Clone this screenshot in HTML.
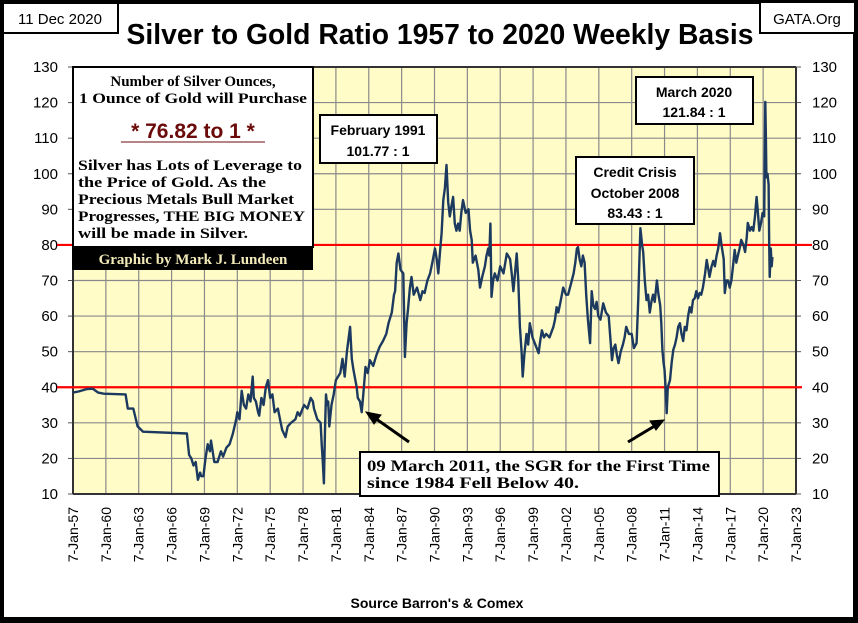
<!DOCTYPE html>
<html><head><meta charset="utf-8"><style>
html,body{margin:0;padding:0;background:#fff}
svg{display:block}
.sans{font-family:"Liberation Sans",sans-serif}
.serif{font-family:"Liberation Serif",serif}
</style></head><body>
<svg id="chart" width="858" height="623" viewBox="0 0 858 623" xmlns="http://www.w3.org/2000/svg">
<rect x="0" y="0" width="858" height="623" fill="#000"/>
<rect x="4" y="4" width="849" height="613" fill="#fff"/>
<g>
<rect x="3" y="3" width="115" height="30" fill="#fff" stroke="#000" stroke-width="2"/>
<text x="60" y="24" class="sans" font-size="15" text-anchor="middle">11 Dec 2020</text>
</g>
<g>
<rect x="760" y="2" width="95" height="31" fill="#fff" stroke="#000" stroke-width="2"/>
<text x="807" y="24" class="sans" font-size="15" text-anchor="middle">GATA.Org</text>
</g>
<text x="440" y="44" class="sans" font-size="29" font-weight="bold" text-anchor="middle" textLength="627" lengthAdjust="spacingAndGlyphs">Silver to Gold Ratio 1957 to 2020 Weekly Basis</text>
<rect x="73" y="67" width="723" height="427" fill="#fffcc8"/>
<g id="grid"></g>
<g id="axes"></g>
<g id="refs"></g>
<path id="series" fill="none" stroke="#1c3a60" stroke-width="2.4" stroke-linejoin="round"/>
<g>
<rect x="73" y="67" width="240" height="180" fill="#fff" stroke="#000" stroke-width="2"/>
<text x="193" y="86" class="serif" font-size="15" font-weight="bold" text-anchor="middle">Number of Silver Ounces,</text>
<text x="193" y="103" class="serif" font-size="15" font-weight="bold" text-anchor="middle" textLength="228" lengthAdjust="spacingAndGlyphs">1 Ounce of Gold will Purchase</text>
<text x="193" y="138" class="sans" font-size="21" font-weight="bold" fill="#6b0a0a" text-anchor="middle">* 76.82 to 1 *</text>
<line x1="121" y1="142" x2="265" y2="142" stroke="#6b0a0a" stroke-width="1"/>
<text x="78" y="170" class="serif" font-size="15" font-weight="bold" textLength="224" lengthAdjust="spacingAndGlyphs">Silver has Lots of Leverage to</text>
<text x="78" y="187" class="serif" font-size="15" font-weight="bold" textLength="188" lengthAdjust="spacingAndGlyphs">the Price of Gold.  As the</text>
<text x="78" y="204" class="serif" font-size="15" font-weight="bold" textLength="216" lengthAdjust="spacingAndGlyphs">Precious Metals Bull Market</text>
<text x="78" y="221" class="serif" font-size="15" font-weight="bold" textLength="227" lengthAdjust="spacingAndGlyphs">Progresses,  THE BIG MONEY</text>
<text x="78" y="238" class="serif" font-size="15" font-weight="bold" textLength="170" lengthAdjust="spacingAndGlyphs">will be made in Silver.</text>
<rect x="72" y="247" width="241" height="23" fill="#000"/>
<text x="193" y="264" class="serif" font-size="15" font-weight="bold" fill="#f2eab8" text-anchor="middle">Graphic by Mark J. Lundeen</text>
</g>
<g>
<rect x="320" y="115" width="117" height="48" fill="#fff" stroke="#000" stroke-width="2"/>
<text x="378" y="135" class="sans" font-size="14" font-weight="bold" text-anchor="middle">February 1991</text>
<text x="378" y="156" class="sans" font-size="14" font-weight="bold" text-anchor="middle">101.77 : 1</text>
</g>
<g>
<rect x="576" y="157" width="118" height="67" fill="#fff" stroke="#000" stroke-width="2"/>
<text x="635" y="177" class="sans" font-size="14" font-weight="bold" text-anchor="middle">Credit Crisis</text>
<text x="635" y="198" class="sans" font-size="14" font-weight="bold" text-anchor="middle">October 2008</text>
<text x="635" y="218" class="sans" font-size="14" font-weight="bold" text-anchor="middle">83.43 : 1</text>
</g>
<g>
<rect x="636" y="77" width="117" height="47" fill="#fff" stroke="#000" stroke-width="2"/>
<text x="694" y="97" class="sans" font-size="14" font-weight="bold" text-anchor="middle">March 2020</text>
<text x="694" y="117" class="sans" font-size="14" font-weight="bold" text-anchor="middle">121.84 : 1</text>
</g>
<g stroke="#000" stroke-width="3" fill="#000">
<line x1="409" y1="442" x2="372" y2="416"/>
<polygon points="366,412 381,415 374,424" stroke-width="1"/>
<line x1="628" y1="442" x2="658" y2="424"/>
<polygon points="664,420 650,421 656,430" stroke-width="1"/>
</g>
<g>
<rect x="360" y="452" width="359" height="44" fill="#fff" stroke="#000" stroke-width="2"/>
<text x="367" y="471" class="serif" font-size="16" font-weight="bold" textLength="343" lengthAdjust="spacingAndGlyphs">09 March 2011, the SGR for the First Time</text>
<text x="367" y="488" class="serif" font-size="16" font-weight="bold" textLength="212" lengthAdjust="spacingAndGlyphs">since 1984 Fell Below 40.</text>
</g>
<text x="437" y="608" class="sans" font-size="14" font-weight="bold" text-anchor="middle">Source Barron's &amp; Comex</text>
</svg>
<script>
const yTicks=[10,20,30,40,50,60,70,80,90,100,110,120,130];
const xTickYears=[1957,1960,1963,1966,1969,1972,1975,1978,1981,1984,1987,1990,1993,1996,1999,2002,2005,2008,2011,2014,2017,2020,2023];
const refLevels=[80,40];
const series=[
[1957,38.5],[1957.5,38.8],[1958.3,39.5],[1958.8,39.6],[1959.3,38.5],[1959.8,38.2],[1961.8,38],[1962.0,34],[1962.5,34],[1962.9,29],[1963.4,27.5],[1967.4,27],
[1967.6,21],[1967.8,20],[1968.0,18],[1968.2,19],[1968.4,14],[1968.6,16],[1968.7,15],[1968.9,15],[1969.1,20],[1969.3,24],[1969.5,22],[1969.6,25],[1969.9,19],[1970.2,19],[1970.5,22],[1970.7,20.5],[1971.0,23],[1971.3,24],[1971.6,27],[1971.9,31],[1972.0,33],[1972.2,31],[1972.4,39],[1972.6,35],[1972.8,34],[1973.0,38],[1973.2,36],[1973.4,43],[1973.5,37],[1973.7,36],[1973.9,33],[1974.0,32],[1974.2,37],[1974.4,35],[1974.6,40],[1974.8,42],[1975.0,37],[1975.2,38],[1975.4,33],[1975.7,34],[1975.9,31],[1976.1,28],[1976.4,26],[1976.6,29],[1976.9,30],[1977.3,31],[1977.5,33],[1977.7,32],[1978.1,35],[1978.4,34],[1978.7,37],[1978.9,36],[1979.0,34],[1979.3,31],[1979.6,30],[1979.7,24],[1979.8,19],[1979.9,13],[1980.0,28],[1980.1,38],[1980.2,35],[1980.3,36],[1980.4,29],[1980.6,35],[1980.8,38],[1981.0,42],[1981.4,44],[1981.6,48],[1981.8,43],[1982.0,50],[1982.3,57],[1982.45,48],[1982.6,45],[1982.9,40],[1983.0,37],[1983.2,36],[1983.35,33],[1983.5,38],
[1983.7,45.7],[1983.9,44],[1984.1,47.6],[1984.4,46],[1984.7,49],[1985.0,51.4],[1985.3,53],[1985.6,55],[1985.8,58],[1986.1,61],[1986.3,66],[1986.4,67],[1986.55,75],[1986.7,77.6],[1986.9,73],[1987.15,72],[1987.3,48.5],[1987.45,58],[1987.6,62.5],[1987.75,68],[1987.9,71],[1988.1,66],[1988.4,68],[1988.7,64.5],[1988.9,67],[1989.1,66.5],[1989.35,70],[1989.6,72],[1989.8,75],[1990.05,79],[1990.2,76],[1990.35,72],[1990.5,78],[1990.65,83.3],[1990.8,92.6],[1990.95,96],[1991.1,102.5],[1991.25,92],[1991.4,88],[1991.55,91],[1991.7,93.5],[1991.85,86],[1992.0,84],[1992.15,86],[1992.3,84],[1992.45,89],[1992.6,92.6],[1992.85,89],[1993.1,90],[1993.25,84],[1993.4,81.4],[1993.5,75],[1993.75,77],[1994.0,73],[1994.15,68],[1994.35,71],[1994.6,74],[1994.75,77],[1994.9,79],[1995.0,77],[1995.1,86],[1995.2,65.4],[1995.35,70],[1995.5,72],[1995.75,70],[1996.0,74],[1996.3,72],[1996.6,77.6],[1996.9,76],[1997.05,72],[1997.2,67],[1997.35,72],[1997.5,77.6],[1997.65,70],[1997.8,57],[1997.95,50],[1998.05,43],[1998.2,49],[1998.4,55],[1998.55,52],[1998.7,58],[1998.95,54],[1999.2,52],[1999.5,49.6],[1999.65,53],[1999.8,56],[2000.0,54],[2000.2,55],[2000.5,54],[2000.85,57],[2001.0,59],[2001.15,62.5],[2001.3,61],[2001.5,64],[2001.75,68],[2002.0,66],[2002.2,66],[2002.45,69],[2002.7,72],[2002.85,75],[2003.0,79],[2003.1,79.4],[2003.25,76],[2003.4,74],[2003.55,77],[2003.7,75],[2003.85,66],[2004.0,59],[2004.2,52.4],[2004.35,67],[2004.5,63],[2004.65,62],[2004.8,64],[2004.95,60],[2005.15,59],[2005.4,63.6],[2005.65,61],[2005.9,60],[2006.05,54],[2006.2,47.6],[2006.35,51],[2006.5,52],[2006.65,49],[2006.8,46.8],[2007.0,50],[2007.2,52],[2007.35,54],[2007.5,57],[2007.75,55],[2008.0,55],[2008.2,51],[2008.45,52.4],[2008.6,65],[2008.7,75.8],[2008.8,84.7],[2008.95,80],[2009.05,78],[2009.2,70],[2009.35,64.5],[2009.5,66],[2009.65,61],[2009.8,64],[2009.95,66],[2010.1,64],[2010.3,70],[2010.45,66],[2010.6,63],[2010.7,58],[2010.8,50.5],[2010.9,47],[2011.0,45],[2011.1,40],[2011.2,32.7],[2011.3,40],[2011.5,42],[2011.65,47],[2011.8,50.5],[2011.95,52],[2012.1,54],[2012.25,57],[2012.4,58],[2012.55,55],[2012.7,53],[2012.85,57],[2013.0,56],[2013.15,60],[2013.3,62.5],[2013.45,61],[2013.6,64.5],[2013.75,65],[2013.9,67],[2014.05,65],[2014.2,66.5],[2014.35,66],[2014.5,68],[2014.7,72],[2014.85,75.8],[2015.0,73],[2015.1,71],[2015.3,74],[2015.45,75.5],[2015.6,74],[2015.75,77],[2015.9,79],[2016.06,83.3],[2016.2,80],[2016.4,76],[2016.5,66.5],[2016.65,70],[2016.8,70],[2016.95,68],[2017.1,70],[2017.25,74],[2017.4,78.6],[2017.55,75],[2017.7,77],[2017.85,79],[2018.0,81.4],[2018.2,80],[2018.35,78],[2018.5,82],[2018.6,86.2],[2018.8,84],[2018.95,85],[2019.1,84],[2019.25,87.8],[2019.4,93.5],[2019.55,88],[2019.65,84],[2019.8,86],[2019.95,89],[2020.1,88],[2020.2,120.2],[2020.25,110],[2020.3,99],[2020.4,100],[2020.5,97],[2020.55,80],[2020.6,71],[2020.7,79],[2020.78,74],[2020.85,76.6]
];
const NS='http://www.w3.org/2000/svg';
const PL=73,PR=796,PT=67,PB=494;
function xScale(y){return PL+(y-1957)/(2023-1957)*(PR-PL);}
function yScale(v){return PB-(v-10)/(130-10)*(PB-PT);}
function mk(tag,attrs,parent){const e=document.createElementNS(NS,tag);for(const k in attrs)e.setAttribute(k,attrs[k]);parent.appendChild(e);return e;}
const grid=document.getElementById('grid'),axes=document.getElementById('axes'),refs=document.getElementById('refs');
yTicks.forEach(v=>{
  const y=yScale(v);
  const gl=mk('line',{x1:PL,x2:PR,y1:y,y2:y,stroke:'#8a8a8a','stroke-width':1.2},grid);
  
  
  mk('line',{x1:PL-5,x2:PL,y1:y,y2:y,stroke:'#555'},axes);
  mk('line',{x1:PR,x2:PR+5,y1:y,y2:y,stroke:'#555'},axes);
  const tl=mk('text',{x:PL-15,y:y+5,'text-anchor':'end','font-size':15,'font-family':'Liberation Sans, sans-serif'},axes);
  tl.textContent=v;
  
  
  const tr=mk('text',{x:PR+16,y:y+5,'font-size':15,'font-family':'Liberation Sans, sans-serif'},axes);
  tr.textContent=v;
  
  
});
xTickYears.forEach(yr=>{
  const x=xScale(yr);
  const gl=mk('line',{x1:x,x2:x,y1:PT,y2:PB,stroke:'#8a8a8a','stroke-width':1.2},grid);
  
  
  const t=mk('text',{x:0,y:0,'text-anchor':'end','font-size':14,'font-family':'Liberation Sans, sans-serif',transform:`translate(${x+5},${PB+13}) rotate(-90)`},axes);
  t.textContent='7-Jan-'+String(yr).slice(2);
  
  
});
mk('line',{x1:PL,x2:PL,y1:PT,y2:PB,stroke:'#333','stroke-width':2},axes);
mk('line',{x1:PR,x2:PR,y1:PT,y2:PB,stroke:'#333','stroke-width':2},axes);
mk('line',{x1:PL,x2:PR,y1:PT,y2:PT,stroke:'#333','stroke-width':2},axes);
mk('line',{x1:PL,x2:PR,y1:PB,y2:PB,stroke:'#333','stroke-width':2},axes);
refLevels.forEach(v=>{
  const y=yScale(v);
  const r=mk('line',{x1:57,x2:v===80?812:802,y1:y,y2:y,stroke:'#ff0000','stroke-width':2.2},refs);
  
  
});
let d='';
series.forEach((p,i)=>{d+=(i?'L':'M')+xScale(p[0]).toFixed(1)+','+yScale(p[1]).toFixed(1);});
document.getElementById('series').setAttribute('d',d);
</script>
</body></html>
